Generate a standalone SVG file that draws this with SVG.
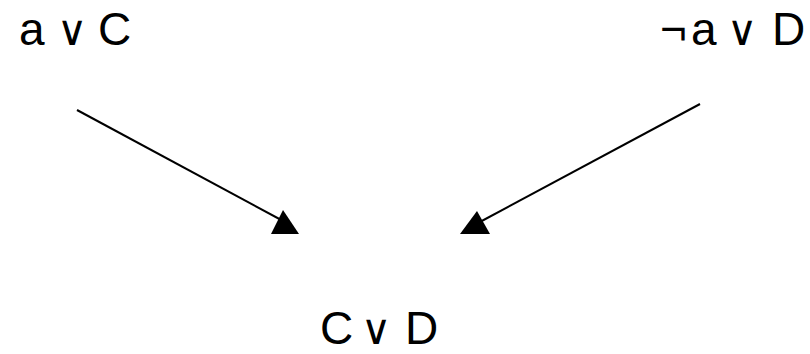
<svg xmlns="http://www.w3.org/2000/svg" width="810" height="354" viewBox="0 0 810 354">
  <style>
    .t { font-family: "Liberation Sans", "DejaVu Sans", sans-serif; font-size: 46px; fill: #000; }
    .op { font-family: "DejaVu Sans", sans-serif; font-size: 42px; fill: #000; text-anchor: middle; }
    .edge { stroke: #000; stroke-width: 2; fill: none; }
    .head { fill: #000; }
  </style>
  <rect width="810" height="354" fill="#fff"/>

  <g id="connectors">
    <line class="edge" x1="77" y1="110" x2="285" y2="222"/>
    <polygon class="head" points="283,210 271,234 299,234"/>
    <line class="edge" x1="700" y1="104" x2="478" y2="223"/>
    <polygon class="head" points="477,211 460,234 490,234"/>
  </g>

  <g id="clause-a-or-c">
    <text class="t" x="19" y="45">a</text>
    <text class="op" x="72" y="45">∨</text>
    <text class="t" x="98" y="45">C</text>
  </g>

  <g id="clause-not-a-or-d">
    <text class="t" x="660" y="45">¬</text>
    <text class="t" x="691" y="45">a</text>
    <text class="op" x="742" y="45">∨</text>
    <text class="t" x="772" y="45">D</text>
  </g>

  <g id="clause-c-or-d">
    <text class="t" x="320" y="344">C</text>
    <text class="op" x="376" y="344">∨</text>
    <text class="t" x="405" y="344">D</text>
  </g>
</svg>
